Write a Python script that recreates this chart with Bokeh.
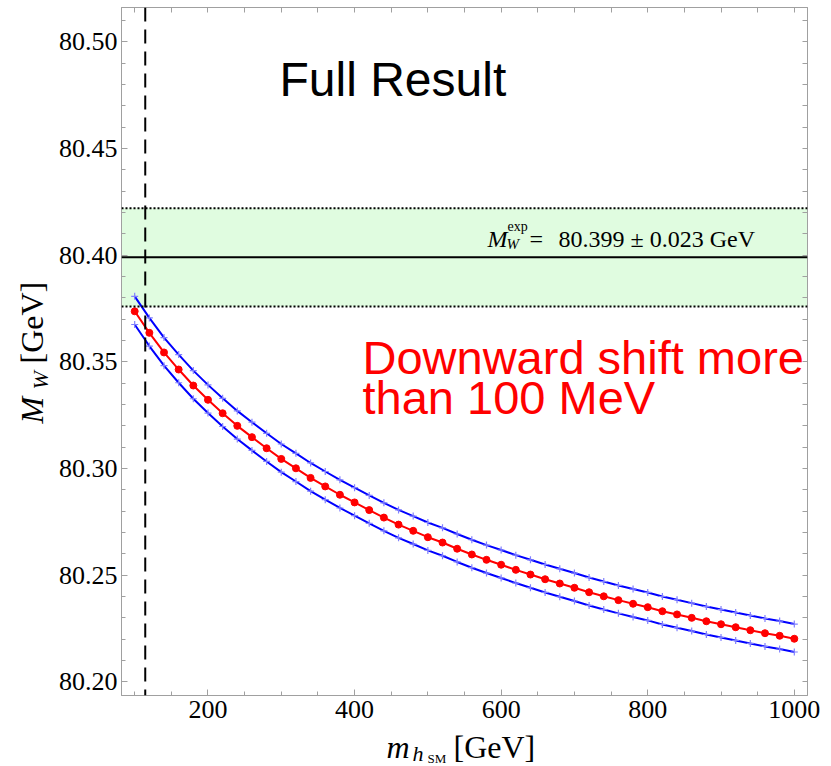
import math
from bokeh.plotting import figure
from bokeh.layouts import row, column
from bokeh.models import Range1d, FixedTicker, LinearAxis, PrintfTickFormatter, Label, Span, BoxAnnotation
from bokeh.embed import file_html
from bokeh.resources import INLINE

# ---------------- data ----------------
m_h = [100, 120, 140, 160, 180, 200, 220, 240, 260, 280, 300, 320, 340, 360, 380,
       400, 420, 440, 460, 480, 500, 520, 540, 560, 580, 600, 620, 640, 660, 680,
       700, 720, 740, 760, 780, 800, 820, 840, 860, 880, 900, 920, 940, 960, 980, 1000]

mw_central = [80.3737, 80.3636, 80.3544, 80.3464, 80.3389, 80.3322, 80.3259, 80.3200,
              80.3147, 80.3095, 80.3045, 80.3001, 80.2956, 80.2916, 80.2877, 80.2841,
              80.2805, 80.2770, 80.2737, 80.2708, 80.2678, 80.2653, 80.2624, 80.2597,
              80.2572, 80.2549, 80.2525, 80.2503, 80.2481, 80.2461, 80.2441, 80.2420,
              80.2401, 80.2383, 80.2366, 80.2350, 80.2331, 80.2316, 80.2300, 80.2284,
              80.2270, 80.2256, 80.2242, 80.2228, 80.2216, 80.2202]

mw_upper = [80.3807, 80.3706, 80.3614, 80.3534, 80.3459, 80.3392, 80.3329, 80.3270,
            80.3217, 80.3165, 80.3115, 80.3071, 80.3026, 80.2986, 80.2947, 80.2910,
            80.2874, 80.2839, 80.2806, 80.2777, 80.2747, 80.2722, 80.2693, 80.2666,
            80.2641, 80.2618, 80.2594, 80.2572, 80.2550, 80.2530, 80.2510, 80.2489,
            80.2470, 80.2452, 80.2435, 80.2419, 80.2400, 80.2385, 80.2369, 80.2353,
            80.2339, 80.2325, 80.2311, 80.2297, 80.2285, 80.2271]

mw_lower = [80.3675, 80.3574, 80.3482, 80.3402, 80.3327, 80.3260, 80.3197, 80.3138,
            80.3085, 80.3033, 80.2983, 80.2939, 80.2894, 80.2854, 80.2815, 80.2779,
            80.2743, 80.2708, 80.2675, 80.2646, 80.2616, 80.2591, 80.2562, 80.2535,
            80.2510, 80.2487, 80.2463, 80.2441, 80.2419, 80.2399, 80.2379, 80.2358,
            80.2339, 80.2321, 80.2304, 80.2288, 80.2269, 80.2254, 80.2238, 80.2222,
            80.2208, 80.2194, 80.2180, 80.2166, 80.2154, 80.2140]

mw_exp = 80.399
mw_exp_err = 0.023
lep_bound = 114.4

x_ticks = [200, 400, 600, 800, 1000]
x_minor = [100, 150, 200, 250, 300, 350, 400, 450, 500, 550, 600, 650, 700, 750,
           800, 850, 900, 950, 1000]
y_ticks = [80.20, 80.25, 80.30, 80.35, 80.40, 80.45, 80.50]
y_minor = [80.20, 80.21, 80.22, 80.23, 80.24, 80.25, 80.26, 80.27, 80.28, 80.29,
           80.30, 80.31, 80.32, 80.33, 80.34, 80.35, 80.36, 80.37, 80.38, 80.39,
           80.40, 80.41, 80.42, 80.43, 80.44, 80.45, 80.46, 80.47, 80.48, 80.49,
           80.50, 80.51]

SERIF = "Liberation Serif"
SANS = "Liberation Sans"
FRAME = "#a0a0a0"
BL = 0.34  # label anchor sits this many font-sizes above the text baseline
YW = 55    # width of the y-title panel
XH = 38    # height of the x-title panel

p = figure(width=831 - YW, height=766 - XH, x_range=Range1d(82, 1018), y_range=Range1d(80.1936, 80.5161),
           output_backend="svg", toolbar_location=None,
           min_border_left=120 - YW, min_border_right=24, min_border_top=7,
           min_border_bottom=766 - XH - 695)
p.grid.visible = False
p.outline_line_color = FRAME
p.background_fill_color = "white"
p.border_fill_color = "white"


def style_axis(ax, ticks, minor):
    ax.ticker = FixedTicker(ticks=ticks, minor_ticks=minor)
    ax.axis_line_color = FRAME
    ax.major_tick_line_color = FRAME
    ax.minor_tick_line_color = FRAME
    ax.major_tick_in = 6
    ax.major_tick_out = 0
    ax.minor_tick_in = 4
    ax.minor_tick_out = 0
    ax.major_label_text_font = SERIF
    ax.major_label_text_font_size = "26px"
    ax.major_label_text_color = "black"


style_axis(p.xaxis[0], x_ticks, x_minor)
p.xaxis[0].major_label_standoff = 5
style_axis(p.yaxis[0], y_ticks, y_minor)
p.yaxis[0].formatter = PrintfTickFormatter(format="%.2f")
p.yaxis[0].major_label_standoff = 4

# mirrored tick marks on the top and right edges (no labels)
top_ax = LinearAxis()
style_axis(top_ax, [], x_minor)
top_ax.minor_tick_in = 5
top_ax.major_label_standoff = 0
p.add_layout(top_ax, "above")
right_ax = LinearAxis()
style_axis(right_ax, [], y_minor)
right_ax.minor_tick_in = 5
right_ax.major_label_standoff = 0
p.add_layout(right_ax, "right")

# experimental band
p.add_layout(BoxAnnotation(bottom=mw_exp - mw_exp_err, top=mw_exp + mw_exp_err,
                           fill_color="#e0fce0", fill_alpha=1.0, line_alpha=0, level="underlay"))
for loc in (mw_exp - mw_exp_err, mw_exp + mw_exp_err):
    p.add_layout(Span(location=loc, dimension="width", line_color="black",
                      line_width=2, line_dash="2 2"))
p.add_layout(Span(location=mw_exp, dimension="width", line_color="black", line_width=2))

# curves
for ys in (mw_upper, mw_lower):
    p.line(m_h, ys, line_color="#0000ff", line_width=2)
    p.scatter(m_h, ys, marker="cross", size=7, line_color="#8080ff", line_width=1.2)
p.line(m_h, mw_central, line_color="#ff0000", line_width=2)
p.scatter(m_h, mw_central, marker="circle", size=7, fill_color="#ff0000", line_color="#ff0000")

# LEP bound
p.add_layout(Span(location=lep_bound, dimension="height", line_color="black",
                  line_width=2, line_dash="14 8"))


def lab(fig, text, x, y_base, size, font=SERIF, style="normal", color="black", angle=0.0):
    """x, y_base: screen coords (from frame's bottom-left) of the text start / baseline."""
    if angle == 0.0:
        ax, ay = x, y_base + BL * size
    else:
        ax, ay = x - BL * size, y_base
    fig.add_layout(Label(x=ax, y=ay, x_units="screen", y_units="screen", text=text,
                         text_font=font, text_font_size=f"{size}px", text_font_style=style,
                         text_color=color, angle=angle, text_align="left",
                         text_baseline="alphabetic"))


# experimental value label  (frame bottom is at canvas y=695, left at x=120)
lab(p, "M", 366, 695 - 247, 24, style="italic")
lab(p, "W", 385, 695 - 249, 15, style="italic")
lab(p, "exp", 386, 695 - 231, 14)
lab(p, "=", 408, 695 - 247, 24)
lab(p, "80.399 \u00b1 0.023 GeV", 437, 695 - 247, 24)

# big annotations
lab(p, "Full Result", 158, 695 - 95, 48, font=SANS)
lab(p, "Downward shift more", 241, 695 - 373, 47, font=SANS, color="#ff0000")
lab(p, "than 100 MeV", 241, 695 - 413, 47, font=SANS, color="#ff0000")

# ---- y-axis title panel (canvas x 0..YW) ----
fy = figure(width=YW, height=766, x_range=Range1d(0, 1), y_range=Range1d(0, 1),
            x_axis_type=None, y_axis_type=None, output_backend="svg", toolbar_location=None,
            min_border=0, outline_line_color=None)
fy.grid.visible = False
rot = math.pi / 2
lab(fy, "M", 42, 766 - 423, 32, style="italic", angle=rot)
lab(fy, "W", 47, 766 - 389, 22, style="italic", angle=rot)
lab(fy, "[GeV]", 42, 766 - 363, 32, angle=rot)

# ---- x-axis title panel (its frame is aligned with the main frame: left at canvas x=120) ----
fx = figure(width=831 - YW, height=XH, x_range=Range1d(0, 1), y_range=Range1d(0, 1),
            x_axis_type=None, y_axis_type=None, output_backend="svg", toolbar_location=None,
            min_border=0, outline_line_color=None)
fx.grid.visible = False
lab(fx, "m", 385 - 120, 766 - 757, 32, style="italic")
lab(fx, "h", 411 - 120, 766 - 760, 22, style="italic")
lab(fx, "SM", 426 - 120, 766 - 762, 13)
lab(fx, "[GeV]", 452 - 120, 766 - 757, 32)

layout = row(fy, column(p, fx))
open("out.html", "w").write(file_html(layout, INLINE))
